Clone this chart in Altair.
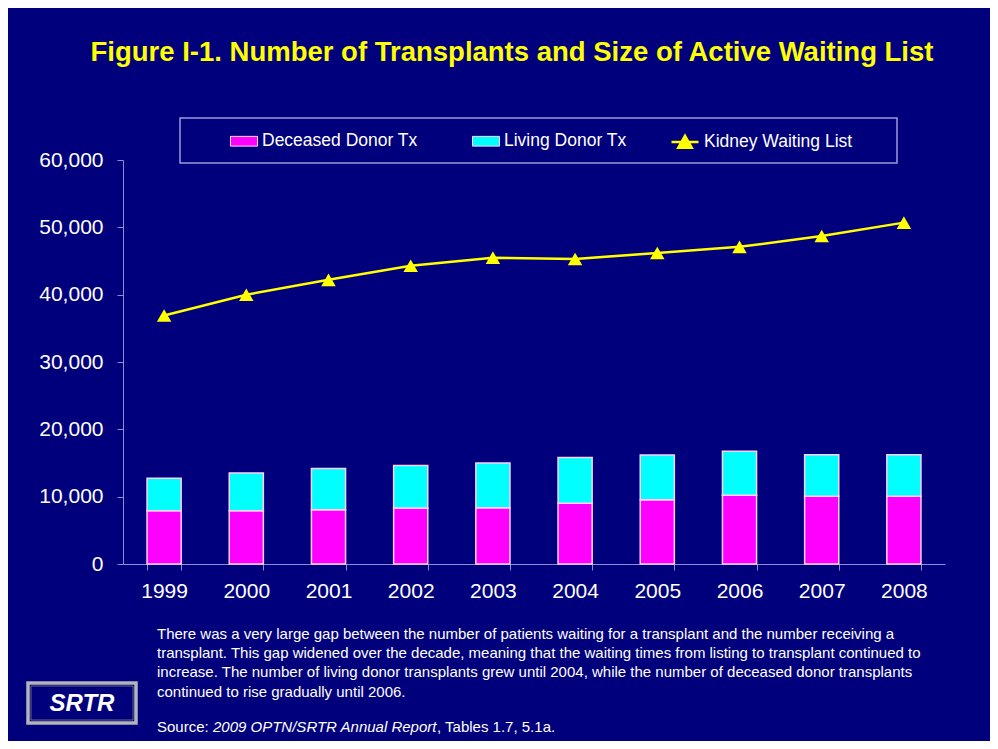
import altair as alt
import pandas as pd

years = ["1999", "2000", "2001", "2002", "2003", "2004", "2005", "2006", "2007", "2008"]
deceased = [7920, 7920, 8050, 8300, 8350, 9040, 9530, 10200, 10060, 10060]
living = [4810, 5600, 6120, 6320, 6660, 6760, 6670, 6540, 6180, 6180]
waiting = [36900, 40000, 42200, 44300, 45500, 45300, 46200, 47100, 48700, 50700]

bar_names = ["Deceased Donor Tx", "Living Donor Tx"]
bar_colors = ["#ff00ff", "#00ffff"]
line_name = "Kidney Waiting List"
line_color = "#ffff00"

title_text = "Figure I-1. Number of Transplants and Size of Active Waiting List"
para_lines = [
    "There was a very large gap between the number of patients waiting for a transplant and the number receiving a",
    "transplant. This gap widened over the decade, meaning that the waiting times from listing to transplant continued to",
    "increase. The number of living donor transplants grew until 2004, while the number of deceased donor transplants",
    "continued to rise gradually until 2006.",
]
source_parts = ["Source: ", "2009 OPTN/SRTR Annual Report", ", Tables 1.7, 5.1a."]

BG = "#00007c"
AXIS_C = "#8c8cd8"
SANS = "Liberation Sans, Arial, Helvetica"

rows = []
for i, y in enumerate(years):
    rows.append({"year": y, "series": bar_names[0], "value": deceased[i], "ord": 0})
    rows.append({"year": y, "series": bar_names[1], "value": living[i], "ord": 1})
bars_df = pd.DataFrame(rows)
line_df = pd.DataFrame({"year": years, "series": line_name, "value": waiting})

x_scale = alt.Scale(domain=years, paddingInner=0.585, paddingOuter=0.2925)
y_scale = alt.Scale(domain=[0, 60000])

common_legend = dict(
    title=None, orient="none", direction="horizontal", labelColor="white",
    labelFont=SANS, labelFontSize=17.5, labelOffset=4, labelLimit=400, symbolSize=729,
    padding=0, symbolOpacity=1,
)
bar_legend = alt.Legend(
    legendX=107, legendY=-33, columns=2, columnPadding=52,
    symbolType="M-1,-0.36H1V0.36H-1Z", symbolStrokeColor="#ffd8ff", symbolStrokeWidth=1,
    **common_legend,
)
line_legend = alt.Legend(
    legendX=547, legendY=-33,
    symbolType="M-1,0H1M0,-0.46L0.5,0.42H-0.5ZM0,-0.24L0.3,0.3H-0.3ZM0,0L0.12,0.2H-0.12Z",
    symbolStrokeWidth=2.5,
    **common_legend,
)

x_axis = alt.Axis(
    title=None, labelAngle=0, labelColor="white", labelFont=SANS, labelFontSize=21,
    labelPadding=10, tickBand="extent", tickSize=6, tickColor=AXIS_C, domainColor=AXIS_C,
    grid=False,
)
y_axis = alt.Axis(
    title=None, values=[0, 10000, 20000, 30000, 40000, 50000, 60000], format=",.0f",
    labelColor="white", labelFont=SANS, labelFontSize=21, labelPadding=14, tickSize=6,
    tickColor=AXIS_C, domainColor=AXIS_C, grid=False,
)

bars = alt.Chart(bars_df).mark_bar(stroke="#ffd0ff", strokeWidth=1.5).encode(
    x=alt.X("year:N", scale=x_scale, axis=x_axis, sort=years),
    y=alt.Y("value:Q", scale=y_scale, axis=y_axis, stack="zero"),
    fill=alt.Fill("series:N", scale=alt.Scale(domain=bar_names, range=bar_colors), legend=bar_legend),
    order=alt.Order("ord:Q", sort="ascending"),
)

line = alt.Chart(line_df).mark_line(strokeWidth=2.5).encode(
    x=alt.X("year:N", scale=x_scale, sort=years),
    y=alt.Y("value:Q", scale=y_scale),
    stroke=alt.Stroke("series:N", scale=alt.Scale(domain=[line_name], range=[line_color]), legend=line_legend),
)

pts = alt.Chart(line_df).mark_point(shape="triangle-up", filled=True, size=210, opacity=1).encode(
    x=alt.X("year:N", scale=x_scale, sort=years),
    y=alt.Y("value:Q", scale=y_scale),
    color=alt.value(line_color),
)

one = alt.Data(values=[{}])

legend_box = alt.Chart(one).mark_rect(fill=None, stroke="#9a9ad8", strokeWidth=1.5).encode(
    x=alt.value(57), x2=alt.value(774), y=alt.value(-42), y2=alt.value(3)
)

title = alt.Chart(one).mark_text(
    font=SANS, fontSize=27.5, fontWeight="bold", color="#ffff00", align="center", baseline="middle"
).encode(x=alt.value(389), y=alt.value(-107), text=alt.value(title_text))

para = alt.Chart(one).mark_text(
    font=SANS, fontSize=15, color="white", align="left", baseline="alphabetic", lineHeight=19.2
).encode(x=alt.value(34), y=alt.value(479), text=alt.value(para_lines))

src1 = alt.Chart(one).mark_text(font=SANS, fontSize=15, color="white", align="left", baseline="alphabetic").encode(
    x=alt.value(34), y=alt.value(572), text=alt.value(source_parts[0]))
src2 = alt.Chart(one).mark_text(font=SANS, fontSize=15, fontStyle="italic", color="white", align="left", baseline="alphabetic").encode(
    x=alt.value(90), y=alt.value(572), text=alt.value(source_parts[1]))
src3 = alt.Chart(one).mark_text(font=SANS, fontSize=15, color="white", align="left", baseline="alphabetic").encode(
    x=alt.value(314), y=alt.value(572), text=alt.value(source_parts[2]))

srtr_box = alt.Chart(one).mark_rect(fill=BG, stroke="#b4b4bc", strokeWidth=3.5).encode(
    x=alt.value(-95), x2=alt.value(13), y=alt.value(523), y2=alt.value(563)
)
srtr_inner = alt.Chart(one).mark_rect(fill=None, stroke="#6a6a80", strokeWidth=1).encode(
    x=alt.value(-92), x2=alt.value(10), y=alt.value(526), y2=alt.value(560)
)
srtr = alt.Chart(one).mark_text(
    font=SANS, fontSize=24, fontWeight="bold", fontStyle="italic", color="white", align="center", baseline="middle"
).encode(x=alt.value(-41), y=alt.value(544), text=alt.value("SRTR"))

chart = alt.layer(
    legend_box, bars, line, pts, title, para, src1, src2, src3, srtr_box, srtr_inner, srtr
).properties(
    width=822, height=404,
    autosize=alt.AutoSizeParams(type="none"),
    padding={"left": 115, "top": 152, "right": 45, "bottom": 177},
    background=BG,
).configure_view(stroke=None)

chart.save("out.html", embed_options={"renderer": "svg", "actions": False})
